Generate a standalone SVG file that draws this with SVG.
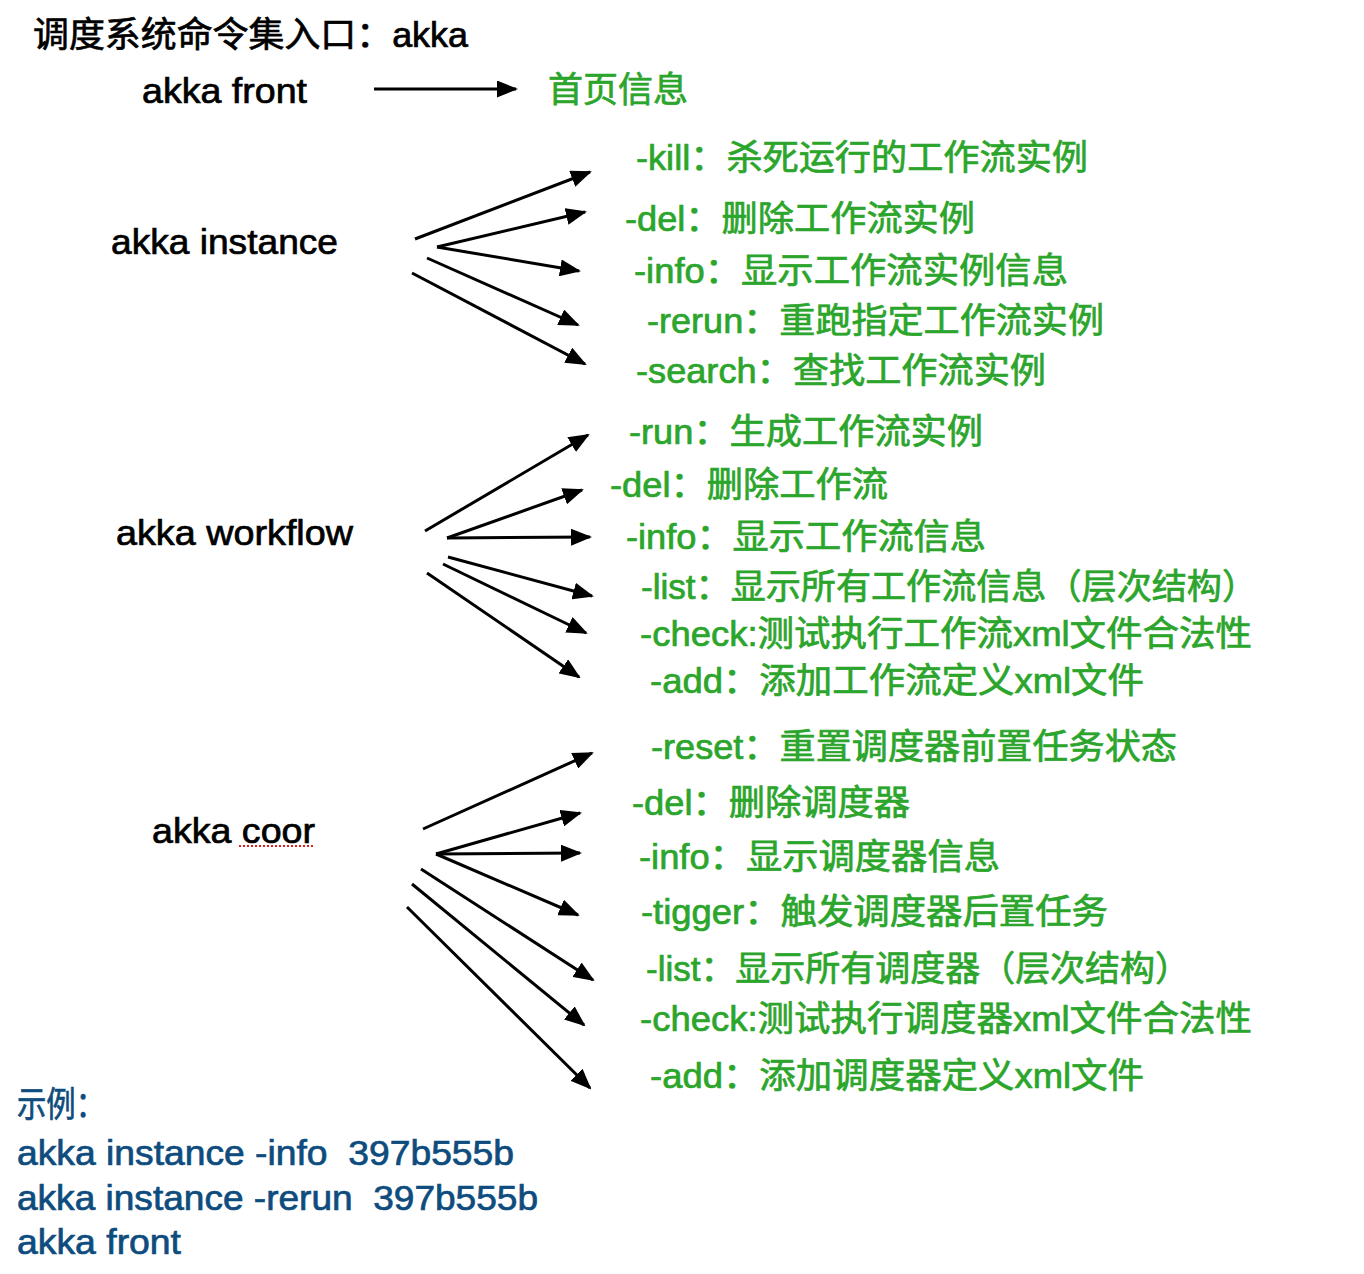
<svg xmlns="http://www.w3.org/2000/svg" width="1364" height="1274" viewBox="0 0 1364 1274">
<style>
text{font-family:"Liberation Sans","Noto Sans CJK SC",sans-serif;font-size:35px;stroke-width:0.7}
.k{fill:#000;stroke:#000}
.g{fill:#2ba52b;stroke:#2ba52b}
.b{fill:#0e4c7e;stroke:#0e4c7e}
.c line{stroke:#000;stroke-width:3;marker-end:url(#ah)}
</style>
<defs>
<marker id="ah" markerUnits="userSpaceOnUse" markerWidth="21" markerHeight="17" viewBox="0 0 21 17" refX="19" refY="8.5" orient="auto">
<path d="M0,0 L21,8.5 L0,17 z" fill="#000"/>
</marker>
</defs>
<rect width="1364" height="1274" fill="#fff"/>
<g id="title"><text class="k" x="33" y="47" textLength="435" lengthAdjust="spacingAndGlyphs">调度系统命令集入口：akka</text></g>
<g id="n-front"><text class="k" x="142" y="103" textLength="165" lengthAdjust="spacingAndGlyphs">akka front</text></g>
<g id="n-front-info"><text class="g" x="548" y="102" textLength="140" lengthAdjust="spacingAndGlyphs">首页信息</text></g>
<g id="n-instance"><text class="k" x="111" y="254" textLength="227" lengthAdjust="spacingAndGlyphs">akka instance</text></g>
<g id="n-workflow"><text class="k" x="116" y="545" textLength="237" lengthAdjust="spacingAndGlyphs">akka workflow</text></g>
<g id="n-coor"><text class="k" x="152" y="843" textLength="163" lengthAdjust="spacingAndGlyphs">akka coor</text>
<line x1="239" y1="846" x2="315" y2="846" stroke="#e02020" stroke-width="2" stroke-dasharray="2,2"/></g>

<g id="i-kill"><text class="g" x="636" y="170" textLength="452" lengthAdjust="spacingAndGlyphs">-kill：杀死运行的工作流实例</text></g>
<g id="i-del"><text class="g" x="625" y="231" textLength="350" lengthAdjust="spacingAndGlyphs">-del：删除工作流实例</text></g>
<g id="i-info"><text class="g" x="634" y="283" textLength="434" lengthAdjust="spacingAndGlyphs">-info：显示工作流实例信息</text></g>
<g id="i-rerun"><text class="g" x="647" y="333" textLength="457" lengthAdjust="spacingAndGlyphs">-rerun：重跑指定工作流实例</text></g>
<g id="i-search"><text class="g" x="636" y="383" textLength="410" lengthAdjust="spacingAndGlyphs">-search：查找工作流实例</text></g>

<g id="w-run"><text class="g" x="629" y="444" textLength="354" lengthAdjust="spacingAndGlyphs">-run：生成工作流实例</text></g>
<g id="w-del"><text class="g" x="610" y="497" textLength="278" lengthAdjust="spacingAndGlyphs">-del：删除工作流</text></g>
<g id="w-info"><text class="g" x="626" y="549" textLength="360" lengthAdjust="spacingAndGlyphs">-info：显示工作流信息</text></g>
<g id="w-list"><text class="g" x="641" y="599" textLength="616" lengthAdjust="spacingAndGlyphs">-list：显示所有工作流信息（层次结构）</text></g>
<g id="w-check"><text class="g" x="640" y="646" textLength="612" lengthAdjust="spacingAndGlyphs">-check:测试执行工作流xml文件合法性</text></g>
<g id="w-add"><text class="g" x="650" y="693" textLength="494" lengthAdjust="spacingAndGlyphs">-add：添加工作流定义xml文件</text></g>

<g id="c-reset"><text class="g" x="651" y="759" textLength="526" lengthAdjust="spacingAndGlyphs">-reset：重置调度器前置任务状态</text></g>
<g id="c-del"><text class="g" x="632" y="815" textLength="278" lengthAdjust="spacingAndGlyphs">-del：删除调度器</text></g>
<g id="c-info"><text class="g" x="639" y="869" textLength="361" lengthAdjust="spacingAndGlyphs">-info：显示调度器信息</text></g>
<g id="c-tigger"><text class="g" x="641" y="924" textLength="467" lengthAdjust="spacingAndGlyphs">-tigger：触发调度器后置任务</text></g>
<g id="c-list"><text class="g" x="646" y="981" textLength="544" lengthAdjust="spacingAndGlyphs">-list：显示所有调度器（层次结构）</text></g>
<g id="c-check"><text class="g" x="640" y="1031" textLength="612" lengthAdjust="spacingAndGlyphs">-check:测试执行调度器xml文件合法性</text></g>
<g id="c-add"><text class="g" x="650" y="1088" textLength="494" lengthAdjust="spacingAndGlyphs">-add：添加调度器定义xml文件</text></g>

<g id="examples">
<text class="b" x="17" y="1117" textLength="88" lengthAdjust="spacingAndGlyphs">示例：</text>
<text class="b" x="17" y="1165" textLength="497" lengthAdjust="spacingAndGlyphs" xml:space="preserve">akka instance -info  397b555b</text>
<text class="b" x="17" y="1210" textLength="521" lengthAdjust="spacingAndGlyphs" xml:space="preserve">akka instance -rerun  397b555b</text>
<text class="b" x="17" y="1254" textLength="164" lengthAdjust="spacingAndGlyphs">akka front</text>
</g>

<g id="connectors" class="c">
<line x1="374" y1="89" x2="516" y2="89"/>
<line x1="415" y1="239" x2="590" y2="172"/>
<line x1="437" y1="247" x2="585" y2="212"/>
<line x1="437" y1="247" x2="579" y2="271"/>
<line x1="427" y1="258" x2="578" y2="325"/>
<line x1="412" y1="273" x2="585" y2="364"/>
<line x1="425" y1="531" x2="588" y2="435"/>
<line x1="447" y1="538" x2="582" y2="490"/>
<line x1="447" y1="538" x2="590" y2="537"/>
<line x1="448" y1="557" x2="592" y2="596"/>
<line x1="443" y1="564" x2="586" y2="633"/>
<line x1="427" y1="573" x2="579" y2="677"/>
<line x1="423" y1="829" x2="592" y2="753"/>
<line x1="436" y1="854" x2="580" y2="813"/>
<line x1="436" y1="854" x2="580" y2="853"/>
<line x1="436" y1="854" x2="578" y2="915"/>
<line x1="421" y1="869" x2="593" y2="980"/>
<line x1="412" y1="884" x2="584" y2="1025"/>
<line x1="407" y1="907" x2="590" y2="1088"/>
</g>
</svg>
